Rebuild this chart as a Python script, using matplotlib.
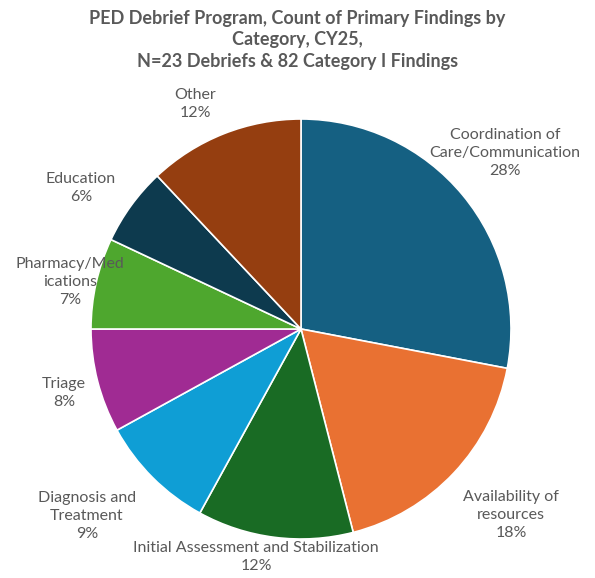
import matplotlib.pyplot as plt

categories = ['Coordination of\nCare/Communication', 'Availability of\nresources',
              'Initial Assessment and Stabilization', 'Diagnosis and\nTreatment',
              'Triage', 'Pharmacy/Med\nications', 'Education', 'Other']
percents = [28, 18, 12, 9, 8, 7, 6, 12]
colors = ['#156082', '#E97132', '#196B24', '#0F9ED5', '#A02B93', '#4EA72E', '#0D3A4E', '#953E10']

# label centres in pixels (x, y from top)
label_px = [(505, 153), (511, 515), (256, 557), (87, 516), (64, 393), (70, 282), (81, 188), (195, 104)]

W, H = 595, 578
cx, cy, r = 301, 329, 210

plt.rcParams['font.family'] = ['Lato', 'DejaVu Sans']
fig = plt.figure(figsize=(W / 100, H / 100), dpi=100)
ax = fig.add_axes([(cx - r) / W, (H - cy - r) / H, 2 * r / W, 2 * r / H])
ax.pie(percents, colors=colors, startangle=90, counterclock=False, radius=1,
       wedgeprops={'edgecolor': 'white', 'linewidth': 1.2})
ax.set_xlim(-1, 1)
ax.set_ylim(-1, 1)
ax.set_aspect('auto')
ax.axis('off')

for cat, p, (px, py) in zip(categories, percents, label_px):
    ax.text((px - cx) / r, (cy - py) / r, f'{cat}\n{p}%', ha='center', va='center',
            fontsize=11.5, color='#595959', linespacing=1.33, clip_on=False)

fig.text(0.5, 1 - 40 / H, 'PED Debrief Program, Count of Primary Findings by\nCategory, CY25,\nN=23 Debriefs & 82 Category I Findings',
         ha='center', va='center', fontsize=13, fontweight='bold', color='#595959', linespacing=1.33)

fig.savefig('out.png', dpi=100)
